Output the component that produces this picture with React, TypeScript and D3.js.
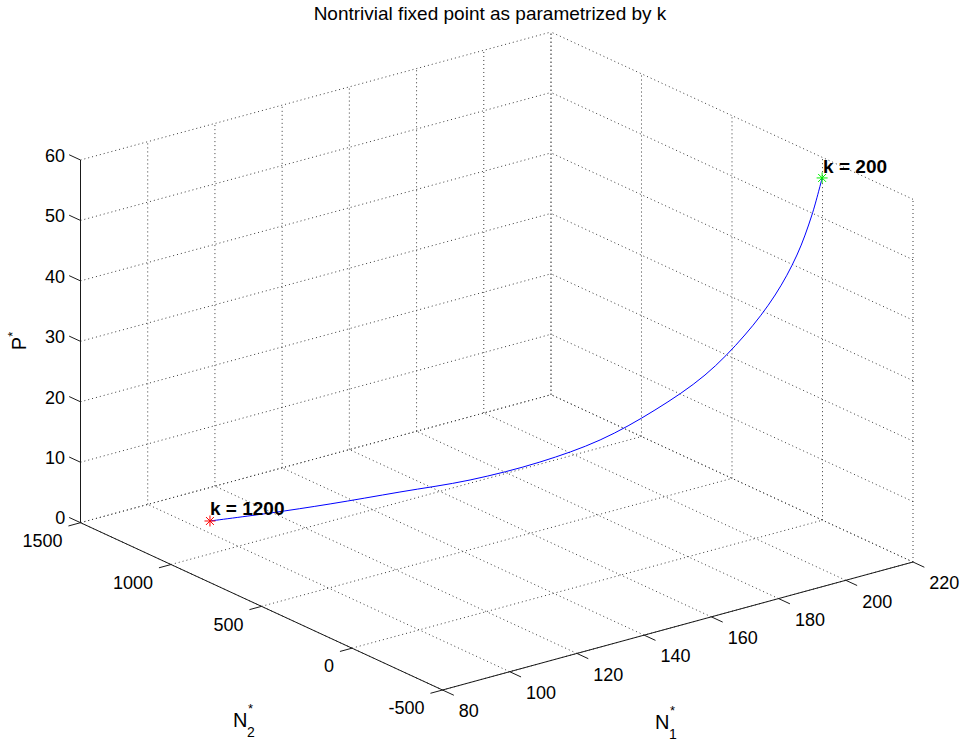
import React from "react";
import * as d3 from "d3";

// ---- data ----
const kValues = [200, 210, 225, 245, 270, 300, 340, 390, 450, 530, 630, 760, 930, 1200];
const n1Values = [214.5, 212.5, 209.6, 205.4, 199.5, 191.8, 182.1, 171.5, 159.8, 146.3, 132.7, 119.2, 107.5, 95.9];
const n2Values = [-100, -80.7, -51.8, -9.4, 48.5, 125.6, 222, 328, 443.7, 578.7, 713.6, 848.6, 964.3, 1080];
const pValues = [58.83, 52.73, 46.15, 39.59, 33.06, 26.54, 20.88, 16.07, 12.58, 9.79, 7.99, 6.19, 4.85, 3.69];

const n1Ticks = [80, 100, 120, 140, 160, 180, 200, 220];
const n2Ticks = [-500, 0, 500, 1000, 1500];
const pTicks = [0, 10, 20, 30, 40, 50, 60];

const titleText = "Nontrivial fixed point as parametrized by k";

// ---- projection ----
const W = 964;
const H = 745;
const origin = { x: 442.5, y: 690 };
const ex = { x: 470.5, y: -128 };
const ey = { x: -362, y: -167.3 };
const ez = { x: 0, y: -362.7 };

const sx = d3.scaleLinear().domain([80, 220]).range([0, 1]);
const sy = d3.scaleLinear().domain([-500, 1500]).range([0, 1]);
const sz = d3.scaleLinear().domain([0, 60]).range([0, 1]);

function proj(a: number, b: number, c: number): [number, number] {
  const u = sx(a), v = sy(b), w = sz(c);
  return [
    origin.x + u * ex.x + v * ey.x + w * ez.x,
    origin.y + u * ex.y + v * ey.y + w * ez.y,
  ];
}

const FONT = "'Liberation Sans', Arial, Helvetica, sans-serif";
const GRID = "#3a3a3a";

function unit(v: { x: number; y: number }) {
  const l = Math.hypot(v.x, v.y);
  return { x: v.x / l, y: v.y / l };
}

function Star({ p, color }: { p: [number, number]; color: string }) {
  const r = 5.5;
  const d = r * 0.72;
  return (
    <g stroke={color} strokeWidth={1}>
      <line x1={p[0] - r} y1={p[1]} x2={p[0] + r} y2={p[1]} />
      <line x1={p[0]} y1={p[1] - r} x2={p[0]} y2={p[1] + r} />
      <line x1={p[0] - d} y1={p[1] - d} x2={p[0] + d} y2={p[1] + d} />
      <line x1={p[0] - d} y1={p[1] + d} x2={p[0] + d} y2={p[1] - d} />
    </g>
  );
}

export default function App() {
  const [x0, x1] = sx.domain();
  const [y0, y1] = sy.domain();
  const [z0, z1] = sz.domain();

  const gridLines: [number, number, number, number, number, number][] = [];
  // floor
  n1Ticks.forEach((t) => gridLines.push([t, y0, z0, t, y1, z0]));
  n2Ticks.forEach((t) => gridLines.push([x0, t, z0, x1, t, z0]));
  // back wall N2 = max
  n1Ticks.forEach((t) => gridLines.push([t, y1, z0, t, y1, z1]));
  pTicks.forEach((t) => gridLines.push([x0, y1, t, x1, y1, t]));
  // back wall N1 = max
  n2Ticks.forEach((t) => gridLines.push([x1, t, z0, x1, t, z1]));
  pTicks.forEach((t) => gridLines.push([x1, y0, t, x1, y1, t]));

  const tl = 12.5;
  const uY = unit(ey);
  const uX = unit(ex);

  const pts = kValues.map((_, i) => proj(n1Values[i], n2Values[i], pValues[i]));
  const line = d3.line().curve(d3.curveCatmullRom.alpha(0.5));
  const first = pts[0];
  const last = pts[pts.length - 1];

  return (
    <svg
      width={W}
      height={H}
      style={{ position: "absolute", left: 0, top: 0, background: "#fff" }}
      fontFamily={FONT}
    >
      <rect x={0} y={0} width={W} height={H} fill="#fff" />
      <g stroke={GRID} strokeWidth={1} strokeDasharray="1 3" fill="none">
        {gridLines.map((g, i) => {
          const a = proj(g[0], g[1], g[2]);
          const b = proj(g[3], g[4], g[5]);
          return <line key={i} x1={a[0]} y1={a[1]} x2={b[0]} y2={b[1]} />;
        })}
      </g>
      {/* axis lines */}
      <g stroke="#1a1a1a" strokeWidth={1} fill="none">
        {(() => {
          const a = proj(x0, y1, z0), b = proj(x0, y1, z1);
          const c = proj(x0, y0, z0), d = proj(x1, y0, z0);
          return (
            <>
              <line x1={a[0]} y1={a[1]} x2={b[0]} y2={b[1]} />
              <line x1={c[0]} y1={c[1]} x2={a[0]} y2={a[1]} />
              <line x1={c[0]} y1={c[1]} x2={d[0]} y2={d[1]} />
            </>
          );
        })()}
        {pTicks.map((t) => {
          const p = proj(x0, y1, t);
          return <line key={"pt" + t} x1={p[0]} y1={p[1]} x2={p[0] + uY.x * tl} y2={p[1] + uY.y * tl} />;
        })}
        {n2Ticks.map((t) => {
          const p = proj(x0, t, z0);
          return <line key={"n2t" + t} x1={p[0]} y1={p[1]} x2={p[0] - uX.x * tl} y2={p[1] - uX.y * tl} />;
        })}
        {n1Ticks.map((t) => {
          const p = proj(t, y0, z0);
          return <line key={"n1t" + t} x1={p[0]} y1={p[1]} x2={p[0] - uY.x * tl} y2={p[1] - uY.y * tl} />;
        })}
      </g>
      {/* tick labels */}
      <g fontSize={18} fill="#000">
        {pTicks.map((t) => {
          const p = proj(x0, y1, t);
          const e = [p[0] + uY.x * tl, p[1] + uY.y * tl];
          return (
            <text key={"pl" + t} x={e[0] - 4} y={e[1] + 1} textAnchor="end" dominantBaseline="central">
              {t}
            </text>
          );
        })}
        {n2Ticks.map((t) => {
          const p = proj(x0, t, z0);
          const e = [p[0] - uX.x * tl, p[1] - uX.y * tl];
          return (
            <text key={"n2l" + t} x={e[0] - 6} y={e[1] + 15} textAnchor="end" dominantBaseline="central">
              {t}
            </text>
          );
        })}
        {n1Ticks.map((t) => {
          const p = proj(t, y0, z0);
          const e = [p[0] - uY.x * tl, p[1] - uY.y * tl];
          return (
            <text key={"n1l" + t} x={e[0] + 5} y={e[1] + 16} textAnchor="start" dominantBaseline="central">
              {t}
            </text>
          );
        })}
      </g>
      {/* axis labels */}
      <text fontSize={20} transform="translate(26,341) rotate(-90)" textAnchor="middle">
        P<tspan fontSize={13} dy={-9}>*</tspan>
      </text>
      <g fontSize={20}>
        <text x={233} y={727}>N</text>
        <text x={248} y={713} fontSize={13}>*</text>
        <text x={247} y={737} fontSize={14}>2</text>
        <text x={655} y={729}>N</text>
        <text x={670} y={715} fontSize={13}>*</text>
        <text x={669} y={739} fontSize={14}>1</text>
      </g>
      {/* title */}
      <text x={490} y={20} fontSize={19} textAnchor="middle">
        {titleText}
      </text>
      {/* curve */}
      <path d={line(pts) || ""} fill="none" stroke="#0000ff" strokeWidth={1} />
      <Star p={last} color="#ff0000" />
      <Star p={first} color="#00ee00" />
      <text x={last[0]} y={last[1] - 6} fontSize={19} fontWeight="bold">
        k = {kValues[kValues.length - 1]}
      </text>
      <text x={first[0] + 1} y={first[1] - 5} fontSize={19} fontWeight="bold">
        k = {kValues[0]}
      </text>
    </svg>
  );
}
